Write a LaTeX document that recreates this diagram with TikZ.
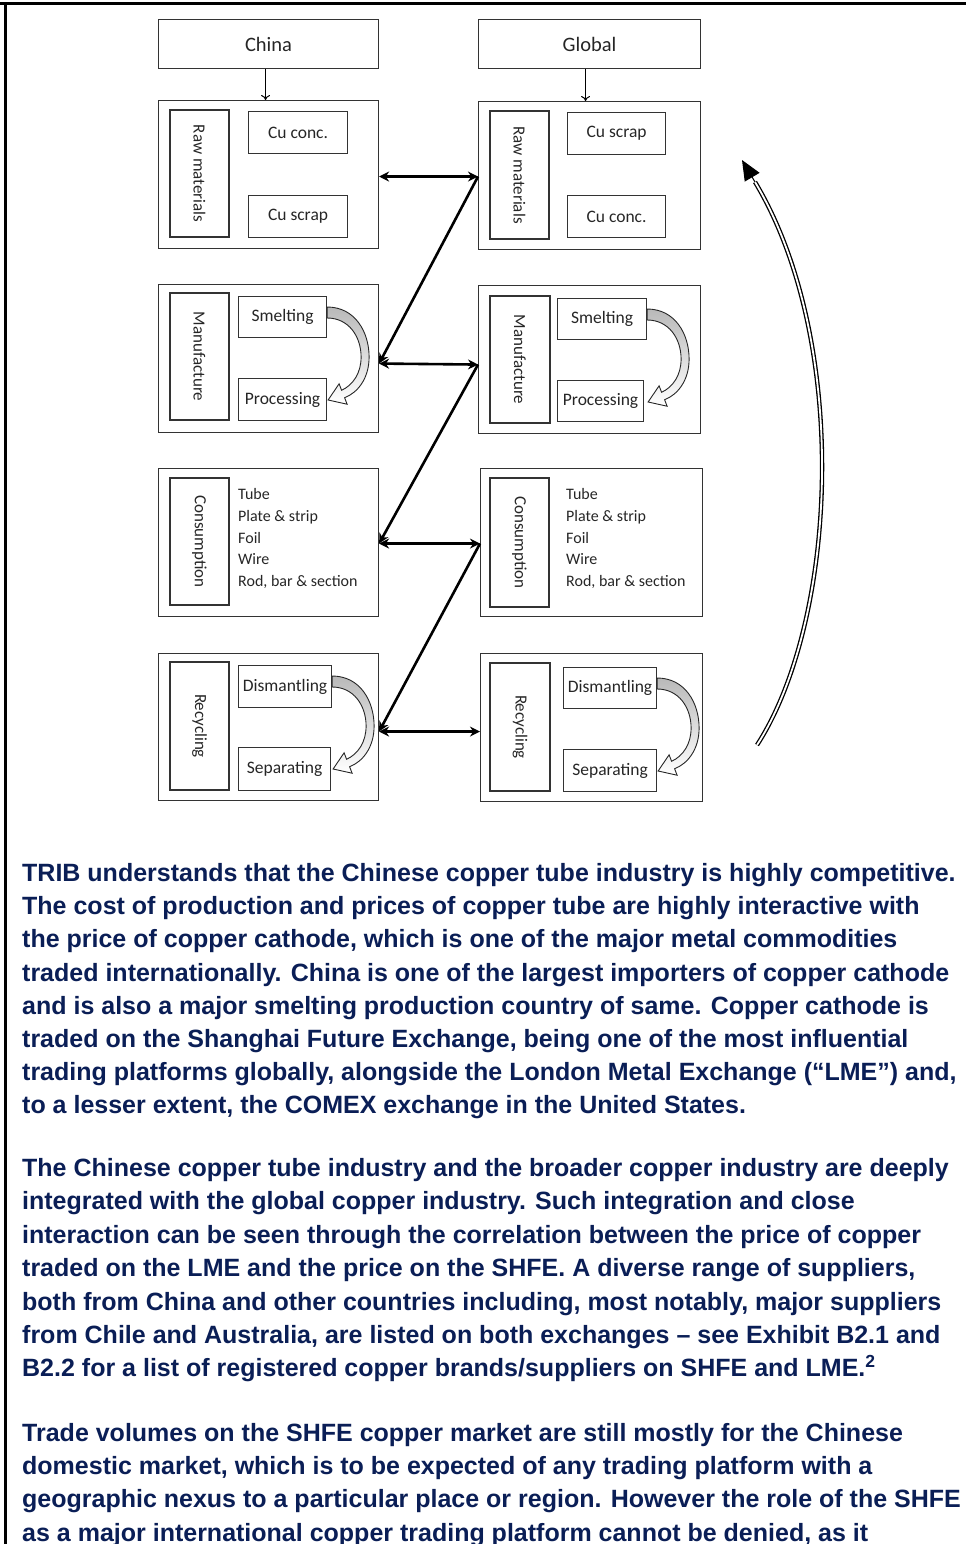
\documentclass[tikz,border=0pt]{standalone}
\usepackage{fontspec}
\setmainfont{Liberation Sans}
\newfontfamily\diagfont{Carlito}
\usetikzlibrary{arrows.meta}
\definecolor{bodyblue}{HTML}{0A1E56}
\definecolor{boxgray}{HTML}{333333}

\begin{document}
\begin{tikzpicture}[x=1pt,y=-1pt,line join=miter,
  box/.style={draw=boxgray,line width=1.1pt,inner sep=0pt,anchor=north west,text=black!85,
    font=\diagfont\fontsize{17.5}{20}\selectfont},
  headbox/.style={box,font=\diagfont\fontsize{20.5}{24}\selectfont},
  sidebox/.style={draw=boxgray,line width=1.1pt,inner sep=0pt,rotate=-90,text=black!85,
    font=\diagfont\fontsize{17}{20}\selectfont},
  item/.style={anchor=base west,inner sep=0pt,text=black!85,font=\diagfont\fontsize{16}{18}\selectfont},
  link/.style={line width=2.6pt,{Stealth[length=10pt,width=10pt]}-{Stealth[length=10pt,width=10pt]}},
  cross/.style={line width=2.6pt,-{Stealth[length=10pt,width=10pt]}},
  feed/.style={line width=1pt,-{To[length=5pt,width=9pt]}},
  body/.style={anchor=base west,inner sep=0pt,text=bodyblue,font=\bfseries\fontsize{25}{33}\selectfont}]
  \useasboundingbox (0,0) rectangle (966,1544);
  % frame
  \draw[line width=3pt] (0,4) -- (966,4);
  \draw[line width=2.6pt] (5.5,2.5) -- (5.5,1544);

  % headers
  \node[headbox,minimum width=220pt,minimum height=49pt] (cnhead) at (158,19) {China};
  \node[headbox,minimum width=222pt,minimum height=49pt] (glhead) at (478,19) {Global};

  % China column
  \node[box,minimum width=220pt,minimum height=148pt] (cnraw) at (158,100) {};
  \node[box,minimum width=220pt,minimum height=148pt] (cnman) at (158,284) {};
  \node[box,minimum width=220pt,minimum height=148pt] (cncon) at (158,468) {};
  \node[box,minimum width=220pt,minimum height=147pt] (cnrec) at (158,653) {};
  \node[sidebox,minimum width=127pt,minimum height=59pt] (cnrawlab) at (199.5,173.5) {Raw materials};
  \node[sidebox,minimum width=127pt,minimum height=59pt] (cnmanlab) at (199.5,356.5) {Manufacture};
  \node[sidebox,minimum width=127pt,minimum height=59pt] (cnconlab) at (199.5,541.5) {Consumption};
  \node[sidebox,minimum width=128pt,minimum height=59pt] (cnreclab) at (199.5,726) {Recycling};
  \node[box,minimum width=99pt,minimum height=42pt] (cnconc) at (248,111) {Cu conc.};
  \node[box,minimum width=99pt,minimum height=42pt] (cnscrap) at (248,195) {Cu scrap};
  \node[box,minimum width=88pt,minimum height=41pt] (cnsmelt) at (238,296) {Smelting};
  \node[box,minimum width=88pt,minimum height=42pt] (cnproc) at (238,378) {Processing};
  \node[box,minimum width=93pt,minimum height=42pt] (cndism) at (238,665) {Dismantling};
  \node[box,minimum width=92pt,minimum height=43pt] (cnsep) at (238,747) {Separating};
  \foreach \w [count=\i] in {Tube,{Plate \& strip},Foil,Wire,{Rod, bar \& section}}
    \node[item] (cnuse\i) at (238,{499.5+21.8*(\i-1)}) {\w};

  % Global column
  \node[box,minimum width=222pt,minimum height=148pt] (glraw) at (478,101) {};
  \node[box,minimum width=222pt,minimum height=148pt] (glman) at (478,285) {};
  \node[box,minimum width=222pt,minimum height=148pt] (glcon) at (480,468) {};
  \node[box,minimum width=222pt,minimum height=148pt] (glrec) at (480,653) {};
  \node[sidebox,minimum width=128pt,minimum height=59pt] (glrawlab) at (519.5,175) {Raw materials};
  \node[sidebox,minimum width=127pt,minimum height=60pt] (glmanlab) at (520,359.5) {Manufacture};
  \node[sidebox,minimum width=129pt,minimum height=59pt] (glconlab) at (519.5,542.5) {Consumption};
  \node[sidebox,minimum width=128pt,minimum height=60pt] (glreclab) at (520,727) {Recycling};
  \node[box,minimum width=98pt,minimum height=42pt] (glscrap) at (567,112) {Cu scrap};
  \node[box,minimum width=98pt,minimum height=42pt] (glconc) at (567,195) {Cu conc.};
  \node[box,minimum width=89pt,minimum height=41pt] (glsmelt) at (557,298) {Smelting};
  \node[box,minimum width=86pt,minimum height=41pt] (glproc) at (557,380) {Processing};
  \node[box,minimum width=93pt,minimum height=41pt] (gldism) at (563,667) {Dismantling};
  \node[box,minimum width=93pt,minimum height=42pt] (glsep) at (563,749) {Separating};
  \foreach \w [count=\i] in {Tube,{Plate \& strip},Foil,Wire,{Rod, bar \& section}}
    \node[item] (gluse\i) at (566,{499.5+21.8*(\i-1)}) {\w};

  % bent block arrows between steps
  \foreach \s in {cnsmelt,glsmelt,cndism,gldism} {
    \begin{scope}[shift={([yshift=-11pt]\s.north east)}]
      \path[draw=black!85,line width=.9pt,top color=gray!55,bottom color=white]
        (0,0) .. controls (28,0) and (42,25) .. (42,50)
        .. controls (42,72) and (30,86) .. (17.5,90.7)
        -- (20,97.2) -- (1,93) -- (12,76.8) -- (14.5,83.3)
        .. controls (26,78) and (34,66) .. (34,50)
        .. controls (34,30) and (22,11) .. (0,11) -- cycle;
    \end{scope}
  }

  % inflows
  \draw[feed] ([xshift=-3pt]cnhead.south) -- ([xshift=-3pt]cnraw.north);
  \draw[feed] ([xshift=-4pt]glhead.south) -- ([xshift=-4pt]glraw.north);

  % trade links
  \draw[link] ([yshift=-2pt]cnraw.east) -- ([yshift=-1pt]glraw.west);
  \draw[link] ([yshift=-5pt]cnman.east) -- ([yshift=-5pt]glman.west);
  \draw[link] ([yshift=-1pt]cncon.east) -- ([yshift=-1pt]glcon.west);
  \draw[link] ([yshift=-4.5pt]cnrec.east) -- ([yshift=-4pt]glrec.west);
  \draw[cross] ([yshift=-1pt]glraw.west) -- ([yshift=-5pt]cnman.east);
  \draw[cross] ([yshift=-5pt]glman.west) -- ([yshift=-1pt]cncon.east);
  \draw[cross] ([yshift=-1pt]glcon.west) -- ([yshift=-4.5pt]cnrec.east);

  % return loop
  \coordinate (loopa) at (757,745);
  \coordinate (loopb) at (755,182);
  \coordinate (loopc) at (742,160);
  \draw[line width=1.3pt,double,double distance=1.8pt] (loopa) .. controls (838,620) and (850,340) .. (loopb);
  \draw[line width=1pt,-{Triangle[length=20pt,width=17pt]}] (loopb) -- (loopc);

  % text
  \foreach \txt [count=\i] in {
    {TRIB understands that the Chinese copper tube industry is highly competitive.},
    {The cost of production and prices of copper tube are highly interactive with},
    {the price of copper cathode, which is one of the major metal commodities},
    {traded internationally. China is one of the largest importers of copper cathode},
    {and is also a major smelting production country of same. Copper cathode is},
    {traded on the Shanghai Future Exchange, being one of the most influential},
    {trading platforms globally, alongside the London Metal Exchange (“LME”) and,},
    {to a lesser extent, the COMEX exchange in the United States.}}
    \node[body] (pa\i) at (22,{881.5+33.2*(\i-1)}) {\txt};
  \foreach \txt [count=\i] in {
    {The Chinese copper tube industry and the broader copper industry are deeply},
    {integrated with the global copper industry. Such integration and close},
    {interaction can be seen through the correlation between the price of copper},
    {traded on the LME and the price on the SHFE. A diverse range of suppliers,},
    {both from China and other countries including, most notably, major suppliers},
    {from Chile and Australia, are listed on both exchanges – see Exhibit B2.1 and},
    {B2.2 for a list of registered copper brands/suppliers on SHFE and LME.\textsuperscript{2}}}
    \node[body] (pb\i) at (22,{1176.5+33.4*(\i-1)}) {\txt};
  \foreach \txt [count=\i] in {
    {Trade volumes on the SHFE copper market are still mostly for the Chinese},
    {domestic market, which is to be expected of any trading platform with a},
    {geographic nexus to a particular place or region. However the role of the SHFE},
    {as a major international copper trading platform cannot be denied, as it}}
    \node[body] (pc\i) at (22,{1441.5+33.2*(\i-1)}) {\txt};
\end{tikzpicture}
\end{document}
